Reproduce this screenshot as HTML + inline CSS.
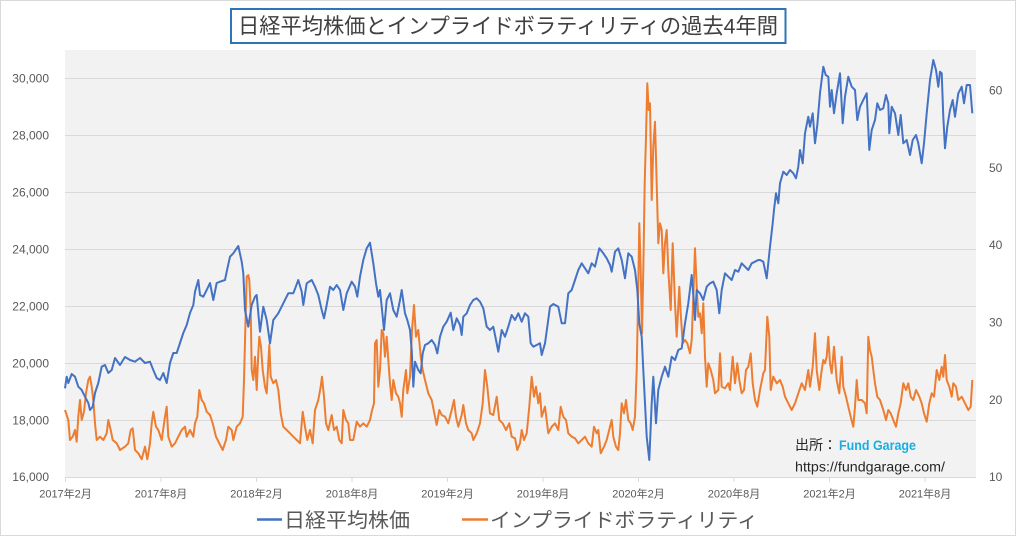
<!DOCTYPE html>
<html><head><meta charset="utf-8"><style>
html,body{margin:0;padding:0;background:#fff;}
svg{display:block;}
text{font-family:"Liberation Sans","Noto Sans CJK JP",sans-serif;}
</style></head><body>
<svg width="1016" height="536" viewBox="0 0 1016 536" xmlns="http://www.w3.org/2000/svg">
<rect x="0.5" y="0.5" width="1015" height="535" fill="#fff" stroke="#d9d9d9" stroke-width="1"/>
<rect x="65" y="50" width="911" height="427" fill="#f2f2f2"/>
<g stroke="#d9d9d9" stroke-width="1">
<line x1="65" x2="976" y1="78.5" y2="78.5"/>
<line x1="65" x2="976" y1="135.5" y2="135.5"/>
<line x1="65" x2="976" y1="192.5" y2="192.5"/>
<line x1="65" x2="976" y1="249.5" y2="249.5"/>
<line x1="65" x2="976" y1="306.5" y2="306.5"/>
<line x1="65" x2="976" y1="363.5" y2="363.5"/>
<line x1="65" x2="976" y1="420.5" y2="420.5"/>
<line x1="65" x2="976" y1="477.5" y2="477.5"/>
<line x1="65.5" x2="65.5" y1="477" y2="482"/>
<line x1="161" x2="161" y1="477" y2="482"/>
<line x1="256.5" x2="256.5" y1="477" y2="482"/>
<line x1="352" x2="352" y1="477" y2="482"/>
<line x1="447.5" x2="447.5" y1="477" y2="482"/>
<line x1="543" x2="543" y1="477" y2="482"/>
<line x1="638.5" x2="638.5" y1="477" y2="482"/>
<line x1="734" x2="734" y1="477" y2="482"/>
<line x1="829.5" x2="829.5" y1="477" y2="482"/>
<line x1="925" x2="925" y1="477" y2="482"/>
</g>
<g font-size="12" fill="#595959" text-anchor="end">
<text x="49" y="82.5">30,000</text>
<text x="49" y="139.5">28,000</text>
<text x="49" y="196.5">26,000</text>
<text x="49" y="253.5">24,000</text>
<text x="49" y="310.5">22,000</text>
<text x="49" y="367.5">20,000</text>
<text x="49" y="424.5">18,000</text>
<text x="49" y="481">16,000</text>
</g>
<g font-size="12" fill="#595959">
<text x="989" y="94.5">60</text>
<text x="989" y="172">50</text>
<text x="989" y="249">40</text>
<text x="989" y="326.5">30</text>
<text x="989" y="404">20</text>
<text x="989" y="481">10</text>
</g>
<g font-size="11" fill="#595959" text-anchor="middle">
<text x="65.5" y="497.5">2017年2月</text>
<text x="161" y="497.5">2017年8月</text>
<text x="256.5" y="497.5">2018年2月</text>
<text x="352" y="497.5">2018年8月</text>
<text x="447.5" y="497.5">2019年2月</text>
<text x="543" y="497.5">2019年8月</text>
<text x="638.5" y="497.5">2020年2月</text>
<text x="734" y="497.5">2020年8月</text>
<text x="829.5" y="497.5">2021年2月</text>
<text x="925" y="497.5">2021年8月</text>
</g>
<polyline fill="none" stroke="#ed7d31" stroke-width="2" stroke-linejoin="round" points="65,410 68.3,420 70,440 72.7,436.7 75,430 76.7,441.7 78.3,416.7 80,400 81.7,420 84,411.7 86,393.3 88.3,380 90,376.7 91.7,386.7 93.3,400 95,423.3 96.7,440 100,436.7 103.3,440 106.7,433.3 108.3,420 110.7,430 112.7,440 116.7,443.3 120,450 125,446.7 128.3,443.3 130.7,430 132.7,428.3 135,450 138.3,453.3 141.7,459.3 145,446.7 147.3,459.3 150,443.3 151.7,423.3 153.3,411.7 156,426.7 158.3,430 161.7,440 165,416.7 166.7,406.7 168.3,436.7 171.7,446.7 175,443.3 178.3,436.7 181.7,430 185,426.7 186.7,436.7 190,430 193.3,436.7 195,423.3 197.3,416.7 199.3,390 201.7,400 204,403.3 206.7,411.7 210,415 212.7,423.3 216,436.7 219.3,443.3 222.7,450 226,440 228.3,426.7 231.7,430 233.3,440 236.7,426.7 240,423.3 242.7,416.7 244,380 245.3,330 246.7,276.7 248.3,275 249.3,280 250.7,310 251.7,370 253.3,380 255,356.7 256.7,390 258.3,353.3 259.3,336.7 261,346.7 262.7,370 265,386.7 266.7,393.3 269.3,345 270.7,376.7 273.3,383.3 276,380 278.3,390 280.7,413.3 283.3,426.7 286.7,430 290,433.3 293.3,436.7 296.7,440 300,443.3 302.7,411.7 305,426.7 307.3,440 310,430 312.7,443.3 315,410 318.3,400 320.7,386.7 322,376.7 324,396.7 326,423.3 328.3,430 331.7,415 334,430 336.7,426.7 339.3,440 341.7,443.3 343.3,410 346,420 348.3,423.3 350,440 353.3,440 356.7,421.7 360,426.7 363.3,423.3 366.7,426.7 370,420 371.7,411.7 374,403.3 375,343.3 376.7,340 378.3,386.7 380,370 381.7,330 383.3,333.3 385,356.7 386.7,336.7 388.3,360 390,383.3 391.7,400 393.3,380 396,393.3 398.3,396.7 400,403.3 401.7,416.7 403.3,390 406,370 407.3,393.3 410,376.7 412,330 414,305 416,336.7 418.3,330 420.7,356.7 422.7,370 425,380 428.3,393.3 431.7,400 435,416.7 436.7,425 439.3,410 441.7,415 445,416.7 448.3,423.3 451.7,410 454,400 456,416.7 458.3,426.7 461.7,415 463.3,405 466,423.3 468.3,430 471.7,433.3 473.3,440 476.7,433.3 480,423.3 482.7,403.3 485,370 487.3,386.7 490,413.3 493.3,415 496.7,396.7 499.3,420 502.7,423.3 506,430 509.3,423.3 511.7,436.7 515,438.3 517.3,450 520,443.3 521.7,430 524,440 526.7,433.3 529.3,406.7 531.7,376.7 534,396.7 536,386.7 538.3,403.3 540,393.3 541.7,416.7 545,406.7 548.3,433.3 551.7,426.7 555,423.3 558.3,430 560.7,406.7 563.3,416.7 566,420 568.3,433.3 571.7,436.7 575,438.3 578.3,443.3 581.7,440 585,436.7 588.3,443.3 591.7,446.7 594,426.7 596.7,433.3 598.3,430 600.7,453.3 604,446.7 606.7,440 610,426.7 611.7,420 613.3,436.7 616,446.7 618.3,450 620,433.3 621.7,403.3 624,413.3 626,400 628.3,420 630.7,423.3 632.7,430 635,416.7 636.7,370 638,303.3 639.3,223.3 640.7,270 642,333.3 643.3,270 644.7,183.3 646,136.7 647.3,83.3 648.7,110 650,103.3 651.7,200 653.3,146.7 655,121.7 656.7,183.3 658.3,243.3 660,223.3 661.7,230 663.3,273.3 665,243.3 666.7,230 668.3,270 670.7,310 672.7,243.3 675,303.3 676.7,336.7 679.3,286.7 680.7,313.3 682.7,343.3 685,340 687.3,343.3 690,353.3 691.7,340 693.3,296.7 695,248.3 696.7,286.7 698.3,316.7 700,313.3 701.7,333.3 703.3,303.3 705,356.7 706.7,386.7 708.3,363.3 710.7,370 713.3,380 715,393.3 718.3,390 720,353.3 721.7,386.7 725,388.3 728.3,383.3 730,390 732.7,356.7 735,383.3 737.3,363.3 739.3,380 741.7,393.3 744,390 746,370 748.3,366.7 750.7,353.3 752.7,383.3 755,400 757.3,406.7 760,390 763.3,373.3 765,370 767.3,316.7 769.3,336.7 770.7,390 773.3,376.7 776.7,383.3 780,380 782.7,386.7 785,396.7 788.3,403.3 791.7,410 795,403.3 798.3,393.3 801.7,383.3 805,390 808.3,370 810,386.7 812.7,366.7 815,333.3 816.7,370 819.3,390 821.7,370 823.3,360 825,363.3 826.7,356.7 828.3,336.7 830,363.3 831.7,373.3 834,346.7 836.7,380 839.3,393.3 841.7,356.7 843.3,386.7 846,396.7 848.3,406.7 850.7,416.7 853.3,426.7 855,406.7 856.7,380 858.3,400 861.7,400 865,403.3 866.7,413.3 868.3,336.7 870,350 871.7,356.7 873.3,370 875,383.3 877.3,396.7 880,400 883.3,410 886,420 888.3,410 890.7,413.3 893.3,420 896,426.7 898.3,413.3 900.7,403.3 903.3,383.3 906,390 908.3,383.3 910.7,396.7 913.3,400 916,390 919.3,396.7 921.7,403.3 924,413.3 926.7,421.7 929.3,403.3 931.7,393.3 934,396.7 936.7,370 939.3,380 941.7,366.7 943.3,376.7 945,355 946.7,380 949.3,386.7 951.7,396.7 953.3,383.3 956,386.7 958.3,400 961.7,396.7 965,403.3 968.3,410 970.7,406.7 972.3,380"/>
<polyline fill="none" stroke="#4472c4" stroke-width="2" stroke-linejoin="round" points="65,388.3 66.7,376.7 68.3,383 71.7,374 75,376.7 78.3,386.7 81.7,390 85,396.7 88.3,403 90,410 92.7,406.7 95,393 98.3,383 101.7,366.7 105,365 108.3,373 111.7,370 115,358 120,365 125,357 130,360 135,361.7 140,358 145,363 150,361.7 153.3,370 156.7,378 160,380 163.3,373 166.7,383 170,363 173.3,353 176.7,353 180,343 183.3,333 186.7,325 190,313 193.3,305 195,291.7 198.3,280 200,295 203.3,296.7 206.7,290 210,283 213.3,300 216.7,283 220,281.7 225,280 226.7,271.7 230,256.7 233.3,253.3 238.3,246 241.7,261.7 243.3,273.3 245,310 248.3,326.7 251.7,305 255,296.7 256.7,295 260,331.7 263.3,306.7 266.7,320 270,343.3 273.3,320 278.3,313.3 283.3,303.3 288.3,293.3 293.3,293.3 298.3,280 301.7,291.7 303.3,305 306.7,283.3 311.7,280 315,286.7 318.3,295 321.7,310 324,318.3 326.7,305 330,286.7 333.3,290 336.7,285 340,290 343.3,310 346.7,293.3 351.7,281.7 355,286.7 357.3,296.7 360,276.7 363.3,260 366.7,248.3 370,242.7 373.3,263.3 376,283.3 378.3,296.7 380,290 382.7,316.7 384,330 386.7,300 390,293.3 393.3,310 396.7,316.7 400,300 401.7,290 405,313.3 407.3,320 410,330 411.7,350 413.3,386.7 415,361.7 418.3,370 420.7,373.3 422.7,353.3 425,345 428.3,343.3 431.7,340 435,345 437.3,353.3 440,336.7 443.3,326.7 446.7,321.7 450.7,312.7 453.3,330 456.7,318.3 460,325 461.7,335 463.3,316.7 466.7,313.3 470,305 473.3,300 476.7,298.3 480,301.7 483.3,308.3 486.7,326.7 490,330 493.3,326.7 496,340 498.3,351.7 501.7,330 505,336.7 508.3,326.7 511.7,315 515,320 518.3,313.3 521.7,321.7 525,313.3 528.3,316.7 530.7,343.3 533.3,346.7 536.7,345 540,343.3 541.7,355 545,343.3 547.3,326.7 550,306.7 553.3,304 558.3,306.7 561.7,323.3 565,323.3 568.3,293.3 571.7,290 575,280 578.3,270 581.7,263.3 585,268.3 588.3,273.3 591.7,263.3 595,266.7 599.3,248.3 603.3,253.3 606.7,258.3 610,265 611.7,271.7 615,251.7 618.3,248.3 621.7,260 625,278.3 628.3,253.3 631.7,256.7 635,270 637.3,290 639.3,323.3 641.7,336.7 643.3,370 645,403.3 646.7,436.7 649.3,460 651.7,403.3 653.3,376.7 656,423.3 658.3,390 661.7,376.7 665,366.7 668.3,376.7 671.7,356.7 675,360 678.3,350 681.7,348.3 685,323.3 688.3,303.3 691.7,275 694,303.3 695,320 696.7,290 700,293.3 703.3,300 706.7,286.7 710,283.3 713.3,281.7 716.7,290 719.3,313.3 721.7,290 725,273.3 728.3,276.7 731.7,280 735,270 738.3,271.7 741.7,263.3 745,266.7 748.3,270 751.7,263.3 755,261.7 758.3,260 760,260 763.3,261.7 766.7,278.3 770,246.7 772.7,223.3 774,210 776,193.3 778.3,203.3 780,183.3 783.3,171.7 786.7,175 790,170 793.3,173.3 796,178.3 798.3,166.7 800,150 802.7,163.3 805,133.3 808.3,116.7 810,126.7 812.7,113.3 815,143.3 817.3,125 820,93.3 823.3,66.7 825.7,75 828.3,76.7 830,106.7 831.7,90 834,113.3 836.7,93.3 840,73.3 842.7,123.3 845,96.7 848.3,76.7 851.7,86.7 855,90 857.3,120 860,106.7 863.3,100 866.7,93.3 869.3,150 871.7,130 875,120 877.3,103.3 880,110 883.3,108.3 886,95 888.3,103.3 889.3,133.3 891.7,106.7 895,113.3 898.3,135 900.7,115 903.3,143.3 906.7,140 910,155 912.7,140 916,135 918.3,143.3 921.7,163.3 924,143.3 926.7,113.3 930,80 933.3,60 936,70 938.3,86.7 940,71.7 941.7,73.3 943.3,116.7 945,148.3 947.3,126.7 950,110 952.7,100 955,116.7 958.3,93.3 961.7,86.7 964,103.3 966.7,85 970,85 972.3,113.3"/>
<text x="795" y="450" font-size="14" fill="#262626">出所：</text>
<text x="839" y="450" font-size="13.5" font-weight="bold" fill="#1aaee0" textLength="77" lengthAdjust="spacingAndGlyphs">Fund Garage</text>
<text x="795" y="471.5" font-size="14" fill="#262626" textLength="150" lengthAdjust="spacingAndGlyphs">https://fundgarage.com/</text>
<rect x="231" y="9" width="554.5" height="34" fill="#fff" stroke="#2e75b6" stroke-width="2"/>
<text x="238" y="33.5" font-size="21.5" fill="#404040" textLength="540" lengthAdjust="spacingAndGlyphs">日経平均株価とインプライドボラティリティの過去4年間</text>
<line x1="257" x2="282" y1="519.5" y2="519.5" stroke="#4472c4" stroke-width="2.5"/>
<text x="284" y="527" font-size="20" fill="#595959" textLength="126" lengthAdjust="spacingAndGlyphs">日経平均株価</text>
<line x1="462" x2="488" y1="519.5" y2="519.5" stroke="#ed7d31" stroke-width="2.5"/>
<text x="490" y="527" font-size="20" fill="#595959" textLength="268" lengthAdjust="spacingAndGlyphs">インプライドボラティリティ</text>
</svg>
</body></html>
